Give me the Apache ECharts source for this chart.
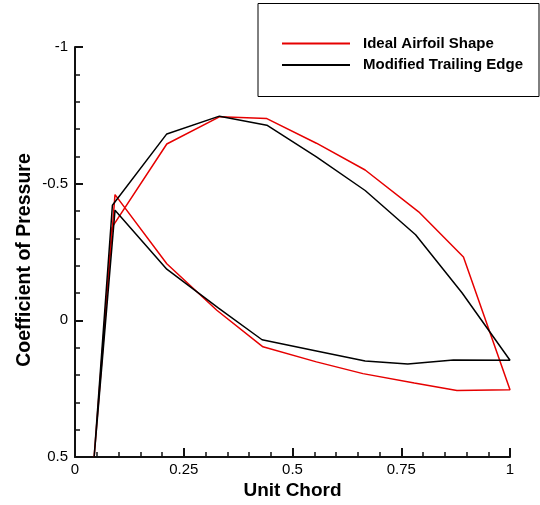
<!DOCTYPE html>
<html>
<head>
<meta charset="utf-8">
<script src="https://cdn.jsdelivr.net/npm/echarts@6/dist/echarts.min.js"></script>
<style>
  html, body { margin: 0; padding: 0; background: #fff; }
  #chart { width: 540px; height: 505px; }
</style>
</head>
<body>
<div id="chart"></div>
<script>
// chord position / pressure coefficient, walked round the airfoil (LE -> upper -> TE -> lower -> LE)
var redX  = [0.044, 0.085, 0.211, 0.333, 0.441, 0.555, 0.667, 0.790, 0.893, 1.000, 0.878, 0.780, 0.662, 0.555, 0.432, 0.326, 0.211, 0.092, 0.044];
var redCp = [0.50, -0.34, -0.645, -0.745, -0.738, -0.648, -0.55, -0.397, -0.232, 0.254, 0.257, 0.229, 0.195, 0.152, 0.097, -0.037, -0.207, -0.46, 0.50];

var blackX  = [0.044, 0.086, 0.211, 0.332, 0.441, 0.555, 0.667, 0.783, 0.890, 1.000, 0.870, 0.765, 0.667, 0.555, 0.430, 0.330, 0.211, 0.092, 0.044];
var blackCp = [0.50, -0.421, -0.682, -0.747, -0.714, -0.598, -0.475, -0.313, -0.10, 0.146, 0.145, 0.160, 0.149, 0.112, 0.071, -0.045, -0.187, -0.403, 0.50];

var seriesNames = ['Ideal Airfoil Shape', 'Modified Trailing Edge'];
var xTicks = ['0', '0.25', '0.5', '0.75', '1'];
var yTicks = ['-1', '-0.5', '0', '0.5'];

var pairs = function (xs, ys) {
  return xs.map(function (x, i) { return [x, ys[i]]; });
};

var font = '"Liberation Sans", Arial, sans-serif';
var axisStyle = { color: '#111', width: 2 };

var myChart = echarts.init(document.getElementById('chart'));
var option = {
  animation: false,
  backgroundColor: '#fff',
  grid: { left: 75, right: 30, top: 47, bottom: 41 },
  graphic: [{
    type: 'rect',
    shape: { x: 258, y: 3.5, width: 281, height: 93 },
    style: { fill: 'none', stroke: '#000', lineWidth: 1 }
  }],
  legend: {
    orient: 'vertical',
    left: 277,
    top: 31,
    itemWidth: 68,
    itemHeight: 2,
    itemGap: 6.4,
    icon: 'rect',
    data: seriesNames,
    textStyle: { fontFamily: font, fontWeight: 'bold', fontSize: 15, color: '#000', padding: [0, 0, 0, 8] }
  },
  xAxis: {
    type: 'value',
    min: 0, max: 1, interval: 0.25,
    name: 'Unit Chord',
    nameLocation: 'middle',
    nameGap: 24,
    nameMoveOverlap: false,
    nameTextStyle: { fontFamily: font, fontWeight: 'bold', fontSize: 19, color: '#000' },
    axisLine: { show: true, onZero: false, lineStyle: axisStyle },
    axisTick: { show: true, inside: true, length: 9, lineStyle: axisStyle },
    minorTick: { show: true, splitNumber: 5, length: 5, lineStyle: { color: '#111', width: 1.5 } },
    splitLine: { show: false },
    axisLabel: {
      fontFamily: font, fontSize: 15, color: '#000', margin: 5,
      formatter: function (v) { return xTicks[Math.round(v / 0.25)]; }
    }
  },
  yAxis: {
    type: 'value',
    min: -1, max: 0.5, interval: 0.5,
    inverse: true,
    name: 'Coefficient of Pressure',
    nameLocation: 'middle',
    nameGap: 40,
    nameMoveOverlap: false,
    nameTextStyle: { fontFamily: font, fontWeight: 'bold', fontSize: 19.5, color: '#000', padding: [0, 16, 0, 0] },
    axisLine: { show: true, onZero: false, lineStyle: axisStyle },
    axisTick: { show: true, inside: true, length: 8, lineStyle: axisStyle },
    minorTick: { show: true, splitNumber: 5, length: 5, lineStyle: { color: '#111', width: 1.5 } },
    splitLine: { show: false },
    axisLabel: {
      fontFamily: font, fontSize: 15, color: '#000', margin: 7,
      formatter: function (v) { return yTicks[Math.round((v + 1) / 0.5)]; }
    }
  },
  series: [
    {
      name: seriesNames[0],
      type: 'line',
      symbol: 'none',
      clip: true,
      lineStyle: { color: '#e60000', width: 1.5 },
      itemStyle: { color: '#e60000' },
      data: pairs(redX, redCp)
    },
    {
      name: seriesNames[1],
      type: 'line',
      symbol: 'none',
      clip: true,
      lineStyle: { color: '#000', width: 1.5 },
      itemStyle: { color: '#000' },
      data: pairs(blackX, blackCp)
    }
  ]
};
myChart.setOption(option);
</script>
</body>
</html>
